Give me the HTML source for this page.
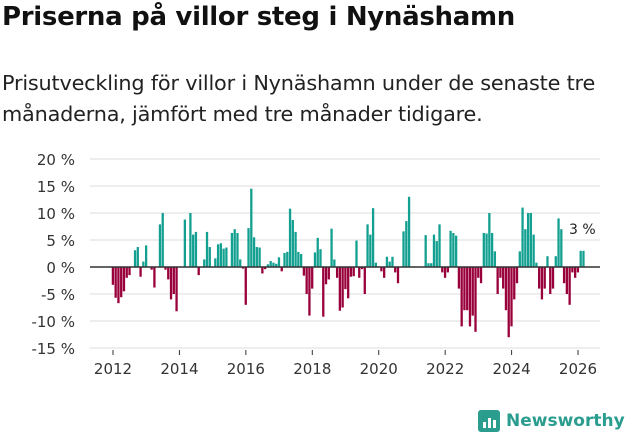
<!DOCTYPE html>
<html><head><meta charset="utf-8"><style>
body{margin:0;width:631px;height:439px;background:#fff;font-family:"Liberation Sans","DejaVu Sans",sans-serif;overflow:hidden;position:relative}
h1{position:absolute;left:2px;top:2px;margin:0;font-size:26px;font-weight:bold;color:#111;font-family:"DejaVu Sans",sans-serif;letter-spacing:-0.3px}
p{position:absolute;left:2px;top:68px;margin:0;font-size:20.8px;line-height:31px;color:#222;font-family:"DejaVu Sans",sans-serif;letter-spacing:-0.2px;white-space:nowrap}
svg{position:absolute;left:0;top:0}
</style></head><body>
<h1>Priserna på villor steg i Nynäshamn</h1>
<p>Prisutveckling för villor i Nynäshamn under de senaste tre<br>månaderna, jämfört med tre månader tidigare.</p>
<svg id="chart" width="631" height="439"></svg>
<div style="position:absolute;left:478px;top:410px;display:flex;align-items:center">
<div style="width:22px;height:22px;background:#2a9d8f;border-radius:3px;position:relative"><div style="position:absolute;left:5px;bottom:4px;width:3px;height:6px;background:#fff"></div><div style="position:absolute;left:10px;bottom:4px;width:3px;height:10px;background:#fff"></div><div style="position:absolute;left:15px;bottom:4px;width:3px;height:8px;background:#fff"></div></div>
<span style="margin-left:6px;font-size:17px;font-weight:bold;color:#2a9d8f;font-family:'DejaVu Sans',sans-serif">Newsworthy</span></div>
<script>
const values=[-3.3,-5.7,-6.7,-5.6,-4.5,-2,-1.5,0,3.1,3.7,-1.8,1,4,0,-0.5,-3.8,0,7.9,10,-0.5,-2.3,-6,-5,-8.2,0,0,8.8,0,10,6,6.5,-1.5,0,1.4,6.5,3.7,0,1.6,4.2,4.4,3.4,3.6,0,6.3,7,6.3,1.4,-0.3,-7,7.2,14.5,5.5,3.7,3.6,-1.2,-0.4,0.5,1.1,0.8,0.6,1.8,-0.8,2.6,2.8,10.8,8.7,6.5,2.8,2.4,-1.6,-5,-9,-4,2.7,5.4,3.3,-9.2,-3.2,-2.3,7.1,1.4,-2,-8.1,-7.5,-4.1,-5.8,-1.8,-1.7,4.9,-2,-0.4,-5,7.9,6,10.9,0.8,0,-0.8,-2,1.9,1,1.9,-1,-3,0,6.6,8.5,13,0,0,0,0,0,5.9,0.7,0.7,6,4.8,7.9,-1,-2,-1,6.7,6.3,5.8,-4,-11,-8,-8,-11,-9,-12,-2,-3,6.3,6.2,10,6.3,2.9,-5,-2,-4,-8,-13,-11,-6,-3,2.9,11,7,10,10,6,0.8,-4,-6,-4,2,-5,-4,2,9,7,-3,-5,-7,-1,-2,-1,3,3];
const yTicks=[20,15,10,5,0,-5,-10,-15];
const xYears=[2012,2014,2016,2018,2020,2022,2024,2026];
const startYear=2012;
const NS='http://www.w3.org/2000/svg';
const svg=document.getElementById('chart');
const y=v=>267-v*5.4;
const x=m=>113+m*2.768;
function mk(t,a){const e=document.createElementNS(NS,t);for(const k in a)e.setAttribute(k,a[k]);svg.appendChild(e);return e;}
yTicks.forEach(v=>{
 const g=mk('line',{x1:90,x2:600,y1:y(v),y2:y(v),stroke:'#e3e3e3','stroke-width':1.3});
 
 
 const t=mk('text',{x:75,y:y(v)+6,'text-anchor':'end','font-size':15,fill:'#333','font-family':'DejaVu Sans, sans-serif'});
 t.textContent=v+' %';
 
 
});
values.forEach((v,i)=>{
 const r=mk('rect',{x:x(i)-1.25,width:2.3,y:Math.min(y(v),267),height:Math.abs(y(v)-267),fill:v>=0?'#13a090':'#99003b'});
 
 
});
const z=mk('line',{x1:90,x2:600,y1:267,y2:267,stroke:'#333','stroke-width':1.5});


xYears.forEach(yr=>{
 const xx=x((yr-startYear)*12);
 const tk=mk('line',{x1:xx,x2:xx,y1:350,y2:355,stroke:'#333','stroke-width':1});
 
 
 const t=mk('text',{x:xx,y:374,'text-anchor':'middle','font-size':15,fill:'#333','font-family':'DejaVu Sans, sans-serif'});
 t.textContent=yr;
 
 
});
const a=mk('text',{x:569,y:234,'font-size':14,fill:'#222','font-family':'DejaVu Sans, sans-serif'});
a.textContent=values[values.length-1]+' %';


</script>
</body></html>
